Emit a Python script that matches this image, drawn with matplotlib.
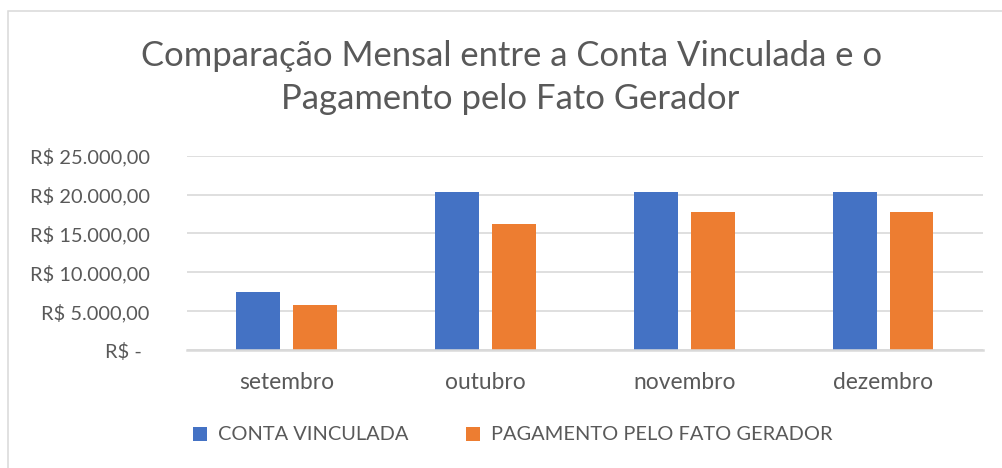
import matplotlib
matplotlib.use("Agg")
import matplotlib.pyplot as plt
import numpy as np
from matplotlib.patches import Rectangle
from matplotlib.ticker import FuncFormatter, MultipleLocator

plt.rcParams['font.family'] = ['Lato', 'DejaVu Sans']

categories = ['setembro', 'outubro', 'novembro', 'dezembro']
conta_vinculada = [7420, 20270, 20270, 20270]
pagamento_fato_gerador = [5780, 16160, 17780, 17780]
series_names = ['CONTA VINCULADA', 'PAGAMENTO PELO FATO GERADOR']
title_lines = ['Comparação Mensal entre a Conta Vinculada e o', 'Pagamento pelo Fato Gerador']

BLUE = '#4472C4'
ORANGE = '#ED7D31'
TEXT = '#595959'
GRID = '#D9D9D9'

W, H = 1002, 468
fig = plt.figure(figsize=(W / 100, H / 100), dpi=100)

# chart border (Excel chart area)
fig.patches.append(Rectangle((8 / W, -0.05), 1.1, 1 - 11 / H + 0.05, transform=fig.transFigure,
                             fill=False, edgecolor=GRID, linewidth=1.1))

ax = fig.add_axes([187 / W, 1 - 350 / H, (982.7 - 187) / W, (350 - 155.7) / H])

x = np.arange(len(categories))
bw = 0.221
off = 0.142
ax.bar(x - off, conta_vinculada, bw, color=BLUE, label=series_names[0], zorder=3)
ax.bar(x + off, pagamento_fato_gerador, bw, color=ORANGE, label=series_names[1], zorder=3)

ax.set_xlim(-0.5, len(categories) - 0.5)
ax.set_ylim(0, 25000)
ax.yaxis.set_major_locator(MultipleLocator(5000))


def brl(v, pos):
    if abs(v) < 1e-9:
        return 'R$ - \u2009'
    s = f'{v:,.2f}'.replace(',', 'X').replace('.', ',').replace('X', '.')
    return f'R$ {s}'


ax.yaxis.set_major_formatter(FuncFormatter(brl))
ax.set_xticks(x)
ax.set_xticklabels(categories)

for s in ['top', 'right', 'left']:
    ax.spines[s].set_visible(False)
ax.spines['bottom'].set_color(GRID)
ax.spines['bottom'].set_linewidth(1.8)
ax.spines['bottom'].set_zorder(4)

ax.grid(axis='y', color=GRID, linewidth=1.2, zorder=0)
ax.set_axisbelow(True)
ax.tick_params(axis='both', length=0, labelcolor=TEXT)
ax.tick_params(axis='y', pad=27, labelsize=14.4)
ax.tick_params(axis='x', pad=15.5, labelsize=16.4)

fig.text(0.511, 1 - 66 / H, title_lines[0], ha='center', va='baseline', fontsize=24.9, color=TEXT)
fig.text(0.509, 1 - 109 / H, title_lines[1], ha='center', va='baseline', fontsize=24.9, color=TEXT)

handles, labels = ax.get_legend_handles_labels()
fig.legend(handles, labels, loc='center', bbox_to_anchor=(0.512, 1 - 435 / H), ncol=2,
           frameon=False, fontsize=14.4, labelcolor=TEXT, handlelength=0.7, handleheight=0.7,
           handletextpad=0.55, columnspacing=2.9)

fig.savefig('out.png', dpi=100)
